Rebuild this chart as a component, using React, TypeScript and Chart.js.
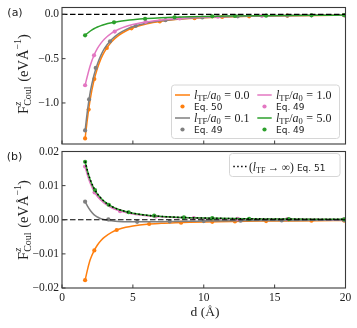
import React, { useEffect, useRef } from "react";
import { Chart, registerables } from "chart.js";
Chart.register(...registerables);

// ---------- data ----------
const dLine = [1.63, 1.8, 2.0, 2.25, 2.5, 2.75, 3.0, 3.5, 4.0, 4.5, 5, 6, 7, 8, 9, 10, 12, 14, 16, 18, 20];

// panel (a)
const topOrange = [-1.40, -1.17, -0.95, -0.75, -0.61, -0.50, -0.42, -0.31, -0.238, -0.188, -0.152, -0.106, -0.078, -0.059, -0.047, -0.038, -0.026, -0.019, -0.015, -0.012, -0.0095];
const topGray = [-1.31, -1.08, -0.87, -0.69, -0.56, -0.46, -0.385, -0.285, -0.218, -0.173, -0.140, -0.097, -0.072, -0.055, -0.043, -0.035, -0.024, -0.018, -0.014, -0.011, -0.0088];
const topPink = [-0.80, -0.69, -0.575, -0.465, -0.385, -0.325, -0.278, -0.212, -0.168, -0.137, -0.115, -0.083, -0.063, -0.049, -0.040, -0.033, -0.023, -0.0172, -0.0135, -0.011, -0.0089];
const topGreen = [-0.237, -0.213, -0.188, -0.163, -0.143, -0.127, -0.114, -0.095, -0.081, -0.070, -0.061, -0.048, -0.039, -0.033, -0.028, -0.024, -0.019, -0.015, -0.0125, -0.0105, -0.009];

const topOrangeMd = [1.63, 1.88, 2.28, 3.16, 4.9, 6.9, 9.35, 11.3, 13.2, 15.9, 19.9];
const topOrangeMv = [-1.40, -1.075, -0.73, -0.38, -0.158, -0.080, -0.0435, -0.030, -0.022, -0.015, -0.0096];
const topGrayMd = [1.63, 1.91, 2.38, 3.39, 5.2, 7.3, 9.9, 12.4, 15.9, 19.9];
const topGrayMv = [-1.31, -0.96, -0.605, -0.305, -0.13, -0.066, -0.036, -0.023, -0.0145, -0.0089];
const topPinkMd = [1.63, 2.26, 3.72, 5.9, 8.3, 11.0, 14.1, 17.6, 19.9];
const topPinkMv = [-0.80, -0.463, -0.195, -0.085, -0.046, -0.0275, -0.017, -0.0115, -0.009];
const topGreenMd = [1.63, 3.67, 5.86, 7.94, 10.6, 12.2, 14.4, 17.6, 19.9];
const topGreenMv = [-0.237, -0.090, -0.050, -0.033, -0.022, -0.019, -0.015, -0.011, -0.009];

// panel (b)
const botOrange = [-0.0177, -0.0146, -0.0116, -0.0092, -0.0074, -0.0061, -0.0051, -0.0037, -0.0028, -0.0022, -0.0018, -0.0013, -0.00105, -0.00088, -0.00075, -0.00065, -0.0005, -0.0004, -0.00033, -0.00028, -0.00024];
const botGray = [0.0053, 0.0040, 0.0027, 0.0015, 0.0008, 0.0003, 0.0, -0.0003, -0.0005, -0.0006, -0.0006, -0.0006, -0.00055, -0.0005, -0.00045, -0.0004, -0.0003, -0.00024, -0.0002, -0.00016, -0.00013];
const botPink = [0.0156, 0.0130, 0.0106, 0.0084, 0.0068, 0.0057, 0.0048, 0.0035, 0.0027, 0.0021, 0.0017, 0.0012, 0.00085, 0.00064, 0.0005, 0.0004, 0.00028, 0.0002, 0.00015, 0.00012, 0.0001];
const botGreen = [0.0170, 0.0142, 0.0116, 0.0092, 0.0075, 0.0063, 0.0053, 0.0039, 0.0030, 0.0024, 0.0019, 0.0013, 0.00097, 0.00075, 0.0006, 0.00049, 0.00034, 0.00025, 0.00019, 0.00015, 0.00012];
const botLimit = [0.0171, 0.0143, 0.0117, 0.0093, 0.0076, 0.0063, 0.0053, 0.0039, 0.0030, 0.0024, 0.0019, 0.0013, 0.00097, 0.00075, 0.0006, 0.00049, 0.00034, 0.00025, 0.00019, 0.00015, 0.00012];

const botOrangeMd = [1.63, 2.28, 3.86, 6.15, 8.4, 10.6, 12.2, 14.4, 17.6, 19.9];
const botOrangeMv = [-0.0177, -0.0090, -0.0030, -0.00125, -0.00085, -0.0006, -0.0005, -0.0004, -0.0003, -0.00024];
const botGrayMd = [1.63, 3.27, 5.3, 7.6, 10.0, 12.6, 15.5, 19.9];
const botGrayMv = [0.0053, 0.0001, -0.0006, -0.00052, -0.0004, -0.0003, -0.00021, -0.00013];
const botPinkMd = [1.63, 2.3, 4.1, 6.6, 9.3, 12.4, 15.9, 19.9];
const botPinkMv = [0.0156, 0.0080, 0.0025, 0.00095, 0.00046, 0.00028, 0.00016, 0.0001];
const botGreenMd = [1.63, 2.33, 3.3, 4.7, 6.5, 8.6, 10.6, 13.2, 16.0, 19.9];
const botGreenMv = [0.0170, 0.0087, 0.0044, 0.0022, 0.0012, 0.00068, 0.00045, 0.00029, 0.00019, 0.00012];

const xTicks = [0, 5, 10, 15, 20];
const xTickLabels = ["0", "5", "10", "15", "20"];
const topYTicks = [0, -0.5, -1.0];
const topYTickLabels = ["0.0", "\u22120.5", "\u22121.0"];
const botYTicks = [0.02, 0.01, 0, -0.01, -0.02];
const botYTickLabels = ["0.02", "0.01", "0.00", "\u22120.01", "\u22120.02"];
const ltfValues = ["0.0", "0.1", "1.0", "5.0"];

// ---------- styling ----------
const ORANGE = "#ff7f0e";
const GRAY = "#7f7f7f";
const PINK = "#e377c2";
const GREEN = "#2ca02c";
const SERIF = "'Liberation Serif', 'DejaVu Serif', serif";
const SANS = "'DejaVu Sans', sans-serif";

type Piece = { t: string; size: number; italic?: boolean; sans?: boolean; dy?: number; gap?: number; noAdv?: boolean };
const fontOf = (p: Piece) => `${p.italic ? "italic " : ""}${p.size}px ${p.sans ? SANS : SERIF}`;

function richWidth(ctx: CanvasRenderingContext2D, pieces: Piece[]) {
  let w = 0;
  for (const p of pieces) {
    ctx.font = fontOf(p);
    if (!p.noAdv) w += ctx.measureText(p.t).width + (p.gap || 0);
  }
  return w;
}
function drawRich(ctx: CanvasRenderingContext2D, pieces: Piece[], x: number, y: number, align: "left" | "center" | "right") {
  const w = richWidth(ctx, pieces);
  let cx = align === "center" ? x - w / 2 : align === "right" ? x - w : x;
  ctx.textAlign = "left";
  ctx.textBaseline = "alphabetic";
  for (const p of pieces) {
    ctx.font = fontOf(p);
    ctx.fillText(p.t, cx, y + (p.dy || 0));
    if (!p.noAdv) cx += ctx.measureText(p.t).width + (p.gap || 0);
  }
}

const yLabelPieces: Piece[] = [
  { t: "F", size: 14.5 },
  { t: "z", size: 10, italic: true, dy: -6.5, noAdv: true },
  { t: "Coul", size: 10, dy: 3.2, gap: 1 },
  { t: " (eV\u00c5", size: 14.5 },
  { t: "\u22121", size: 10, dy: -6.5 },
  { t: ")", size: 14.5 },
];
const ltfPieces = (v: string): Piece[] => [
  { t: "l", size: 12, italic: true },
  { t: "TF", size: 8.5, dy: 2.2 },
  { t: "/", size: 12 },
  { t: "a", size: 12, italic: true },
  { t: "0", size: 8.5, dy: 2.2, gap: 3.5 },
  { t: "=", size: 12, gap: 3.5 },
  { t: v, size: 12 },
];

const pts = (xs: number[], ys: number[]) => xs.map((x, i) => ({ x, y: ys[i] }));
const lineDs = (xs: number[], ys: number[], color: string, extra: any = {}) => ({
  data: pts(xs, ys),
  borderColor: color,
  backgroundColor: color,
  borderWidth: 1.5,
  pointRadius: 0,
  cubicInterpolationMode: "monotone",
  fill: false,
  showLine: true,
  ...extra,
});
const dotDs = (xs: number[], ys: number[], color: string) => ({
  data: pts(xs, ys),
  borderColor: color,
  backgroundColor: color,
  pointBackgroundColor: color,
  pointBorderWidth: 0,
  pointRadius: 2.1,
  showLine: false,
});
const zeroDs = () =>
  lineDs([0, 20], [0, 0], "#000", { borderDash: [5.5, 2.5], borderWidth: 1.2, cubicInterpolationMode: "default", tension: 0 });

function drawAxes(chart: any, yTicks: number[], yLabels: string[], showX: boolean) {
  const ctx: CanvasRenderingContext2D = chart.ctx;
  const ca = chart.chartArea;
  const xs = chart.scales.x;
  const ys = chart.scales.y;
  ctx.save();
  ctx.strokeStyle = "#3a3a3a";
  ctx.lineWidth = 1.1;
  ctx.strokeRect(ca.left, ca.top, ca.right - ca.left, ca.bottom - ca.top);
  ctx.lineWidth = 1;
  ctx.beginPath();
  yTicks.forEach((v) => {
    const py = ys.getPixelForValue(v);
    ctx.moveTo(ca.left, py);
    ctx.lineTo(ca.left + 3.5, py);
  });
  xTicks.forEach((v) => {
    const px = xs.getPixelForValue(v);
    ctx.moveTo(px, ca.bottom);
    ctx.lineTo(px, ca.bottom - 3.5);
  });
  ctx.stroke();
  ctx.fillStyle = "#222";
  ctx.font = `11.5px ${SERIF}`;
  ctx.textAlign = "right";
  ctx.textBaseline = "middle";
  yTicks.forEach((v, i) => ctx.fillText(yLabels[i], ca.left - 3, ys.getPixelForValue(v)));
  if (showX) {
    ctx.textAlign = "center";
    ctx.textBaseline = "top";
    xTicks.forEach((v, i) => ctx.fillText(xTickLabels[i], xs.getPixelForValue(v), ca.bottom + 4));
  }
  ctx.restore();
}

function drawYLabel(ctx: CanvasRenderingContext2D, cx: number, cy: number) {
  ctx.save();
  ctx.translate(cx, cy);
  ctx.rotate(-Math.PI / 2);
  ctx.fillStyle = "#222";
  drawRich(ctx, yLabelPieces, 0, 0, "center");
  ctx.restore();
}

function legendBox(ctx: CanvasRenderingContext2D, x: number, y: number, w: number, h: number) {
  ctx.save();
  ctx.beginPath();
  (ctx as any).roundRect(x, y, w, h, 3);
  ctx.fillStyle = "rgba(255,255,255,0.85)";
  ctx.fill();
  ctx.strokeStyle = "#d6d6d6";
  ctx.lineWidth = 1;
  ctx.stroke();
  ctx.restore();
}

const topPlugin = {
  id: "topDecor",
  afterDraw(chart: any) {
    const ctx: CanvasRenderingContext2D = chart.ctx;
    drawAxes(chart, topYTicks, topYTickLabels, false);
    drawYLabel(ctx, 27.5, 74);
    ctx.save();
    ctx.fillStyle = "#222";
    ctx.font = `11px ${SANS}`;
    ctx.textAlign = "center";
    ctx.textBaseline = "middle";
    ctx.fillText("(a)", 15, 13);
    ctx.restore();
    // legend
    legendBox(ctx, 171.5, 85, 168, 53.5);
    const rows = [95, 106.5, 118, 129.5];
    const cols = [
      { x0: 175, x1: 190, tx: 194 },
      { x0: 257.3, x1: 271.7, tx: 276 },
    ];
    const entries = [
      { c: 0, r: 0, color: ORANGE, kind: "line", v: ltfValues[0] },
      { c: 0, r: 1, color: ORANGE, kind: "dot", t: "Eq. 50" },
      { c: 0, r: 2, color: GRAY, kind: "line", v: ltfValues[1] },
      { c: 0, r: 3, color: GRAY, kind: "dot", t: "Eq. 49" },
      { c: 1, r: 0, color: PINK, kind: "line", v: ltfValues[2] },
      { c: 1, r: 1, color: PINK, kind: "dot", t: "Eq. 49" },
      { c: 1, r: 2, color: GREEN, kind: "line", v: ltfValues[3] },
      { c: 1, r: 3, color: GREEN, kind: "dot", t: "Eq. 49" },
    ];
    ctx.save();
    entries.forEach((e: any) => {
      const col = cols[e.c];
      const y = rows[e.r];
      if (e.kind === "line") {
        ctx.strokeStyle = e.color;
        ctx.lineWidth = 1.5;
        ctx.beginPath();
        ctx.moveTo(col.x0, y);
        ctx.lineTo(col.x1, y);
        ctx.stroke();
        ctx.fillStyle = "#222";
        drawRich(ctx, ltfPieces(e.v), col.tx, y + 3.8, "left");
      } else {
        ctx.fillStyle = e.color;
        ctx.beginPath();
        ctx.arc((col.x0 + col.x1) / 2, y, 2.1, 0, Math.PI * 2);
        ctx.fill();
        ctx.fillStyle = "#222";
        ctx.font = `9px ${SANS}`;
        ctx.textAlign = "left";
        ctx.textBaseline = "alphabetic";
        ctx.fillText(e.t, col.tx, y + 3.3);
      }
    });
    ctx.restore();
  },
};

const botPlugin = {
  id: "botDecor",
  afterDraw(chart: any) {
    const ctx: CanvasRenderingContext2D = chart.ctx;
    drawAxes(chart, botYTicks, botYTickLabels, true);
    drawYLabel(ctx, 27.5, 220);
    ctx.save();
    ctx.fillStyle = "#222";
    ctx.font = `11px ${SANS}`;
    ctx.textAlign = "center";
    ctx.textBaseline = "middle";
    ctx.fillText("(b)", 14.5, 157);
    drawRich(ctx, [{ t: "d (\u00c5)", size: 13.5 }], 205, 316, "center");
    ctx.restore();
    legendBox(ctx, 229.5, 153.5, 110.5, 23);
    ctx.save();
    ctx.strokeStyle = "#000";
    ctx.lineWidth = 1.5;
    ctx.setLineDash([1.5, 2.4]);
    ctx.beginPath();
    ctx.moveTo(233.3, 166.5);
    ctx.lineTo(246.7, 166.5);
    ctx.stroke();
    ctx.setLineDash([]);
    ctx.fillStyle = "#222";
    drawRich(
      ctx,
      [
        { t: "(", size: 11.5 },
        { t: "l", size: 11.5, italic: true },
        { t: "TF", size: 8, dy: 2.2, gap: 2.5 },
        { t: "\u2192", size: 11.5, gap: 2.5 },
        { t: "\u221e", size: 11.5 },
        { t: ")", size: 11.5, gap: 3 },
        { t: "Eq. 51", size: 9, sans: true },
      ],
      249,
      170.5,
      "left"
    );
    ctx.restore();
  },
};

function baseOptions(padTop: number, padBottom: number, yMin: number, yMax: number) {
  return {
    responsive: false,
    animation: false as const,
    devicePixelRatio: 1,
    events: [] as any[],
    layout: { padding: { left: 62, right: 11.5, top: padTop, bottom: padBottom } },
    plugins: { legend: { display: false }, tooltip: { enabled: false } },
    scales: {
      x: { type: "linear" as const, min: 0, max: 20, display: false },
      y: { type: "linear" as const, min: yMin, max: yMax, display: false },
    },
  };
}

function makeTop(): any {
  return {
    type: "line",
    data: {
      datasets: [
        zeroDs(),
        dotDs(topGreenMd, topGreenMv, GREEN),
        lineDs(dLine, topGreen, GREEN),
        dotDs(topPinkMd, topPinkMv, PINK),
        lineDs(dLine, topPink, PINK),
        dotDs(topGrayMd, topGrayMv, GRAY),
        lineDs(dLine, topGray, GRAY),
        dotDs(topOrangeMd, topOrangeMv, ORANGE),
        lineDs(dLine, topOrange, ORANGE),
      ],
    },
    options: baseOptions(7.5, 328 - 144, -1.463, 0.077),
    plugins: [topPlugin],
  };
}

function makeBottom(): any {
  return {
    type: "line",
    data: {
      datasets: [
        zeroDs(),
        lineDs(dLine, botLimit, "#000", { borderDash: [1.5, 2.4], borderWidth: 1.6 }),
        dotDs(botGreenMd, botGreenMv, GREEN),
        lineDs(dLine, botGreen, GREEN),
        dotDs(botPinkMd, botPinkMv, PINK),
        lineDs(dLine, botPink, PINK),
        dotDs(botGrayMd, botGrayMv, GRAY),
        lineDs(dLine, botGray, GRAY),
        dotDs(botOrangeMd, botOrangeMv, ORANGE),
        lineDs(dLine, botOrange, ORANGE),
      ],
    },
    options: baseOptions(151.5, 328 - 288, -0.02, 0.02),
    plugins: [botPlugin],
  };
}

export default function App() {
  const topRef = useRef<HTMLCanvasElement>(null);
  const botRef = useRef<HTMLCanvasElement>(null);
  useEffect(() => {
    const c2 = new Chart(botRef.current!, makeBottom());
    const c1 = new Chart(topRef.current!, makeTop());
    return () => {
      c1.destroy();
      c2.destroy();
    };
  }, []);
  return (
    <div style={{ position: "fixed", left: 0, top: 0, width: 357, height: 328, background: "#fff" }}>
      <canvas ref={botRef} width={357} height={328} style={{ position: "absolute", left: 0, top: 0 }} />
      <canvas ref={topRef} width={357} height={328} style={{ position: "absolute", left: 0, top: 0 }} />
    </div>
  );
}
